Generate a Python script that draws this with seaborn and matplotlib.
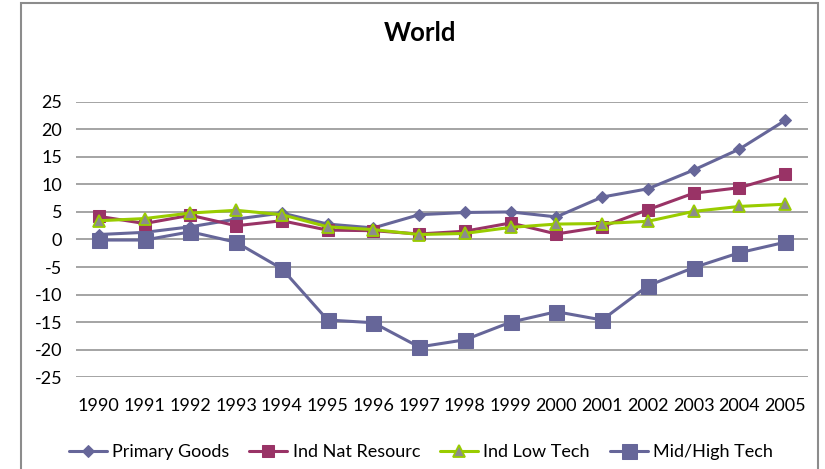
import matplotlib
matplotlib.use("Agg")
import matplotlib.pyplot as plt
from matplotlib.patches import Rectangle
import seaborn as sns
import pandas as pd

years = list(range(1990, 2006))
primary_goods = [0.9, 1.3, 2.3, 3.7, 4.8, 2.8, 2.1, 4.5, 4.9, 5.0, 4.1, 7.7, 9.2, 12.6, 16.4, 21.6]
ind_nat_resourc = [4.2, 2.9, 4.4, 2.5, 3.4, 1.7, 1.6, 1.0, 1.5, 3.0, 1.0, 2.3, 5.4, 8.4, 9.4, 11.8]
ind_low_tech = [3.4, 3.8, 4.8, 5.3, 4.5, 2.3, 1.8, 0.9, 1.1, 2.2, 2.8, 2.9, 3.3, 5.1, 6.0, 6.4]
mid_high_tech = [-0.1, -0.1, 1.4, -0.5, -5.3, -14.6, -15.1, -19.5, -18.2, -15.0, -13.1, -14.6, -8.4, -5.1, -2.4, -0.5]
series_names = ["Primary Goods", "Ind Nat Resourc", "Ind Low Tech", "Mid/High Tech"]
y_ticks = [25, 20, 15, 10, 5, 0, -5, -10, -15, -20, -25]

frames = []
for name, vals in zip(series_names, [primary_goods, ind_nat_resourc, ind_low_tech, mid_high_tech]):
    frames.append(pd.DataFrame({"Year": years, "Value": vals, "Series": name}))
df = pd.concat(frames, ignore_index=True)

sns.set_theme(style="white")
plt.rcParams["font.family"] = ["Lato", "DejaVu Sans"]
plt.rcParams["axes.unicode_minus"] = False

W, H = 825, 469
fig = plt.figure(figsize=(W / 100, H / 100), dpi=100)
ax = fig.add_axes([76 / W, 1 - 377.3 / H, (808 - 76) / W, (377.3 - 101.7) / H])

styles = {
    "Primary Goods": dict(color="#666699", marker="D", markersize=6.6,
                          markerfacecolor="#666699", markeredgecolor="#666699"),
    "Ind Nat Resourc": dict(color="#993366", marker="s", markersize=8.2,
                            markerfacecolor="#993366", markeredgecolor="#993366"),
    "Ind Low Tech": dict(color="#99CC00", marker="^", markersize=9.0,
                         markerfacecolor="#8C8C8C", markeredgecolor="#99CC00",
                         markeredgewidth=1.3),
    "Mid/High Tech": dict(color="#666699", marker="s", markersize=10.8,
                          markerfacecolor="#666699", markeredgecolor="#666699"),
}

for name in series_names:
    sub = df[df["Series"] == name]
    st = dict(styles[name])
    sns.lineplot(data=sub, x="Year", y="Value", ax=ax, linewidth=2.2,
                 label=name, **st)

ax.set_xlim(1989.5, 2005.5)
ax.set_ylim(-25, 25)
ax.set_yticks(y_ticks)
ax.set_xticks(years)
ax.set_xticklabels([str(y) for y in years])
ax.set_xlabel("")
ax.set_ylabel("")
for s in ax.spines.values():
    s.set_visible(False)
for t in y_ticks:
    ax.axhline(t, color="#8C8C8C", linewidth=1.1, zorder=0)
ax.tick_params(axis="y", length=0, pad=10, labelsize=13, labelcolor="black")
ax.tick_params(axis="x", length=0, pad=15, labelsize=13, labelcolor="black")

leg = ax.legend(loc="center", bbox_to_anchor=(421 / W, 1 - 452 / H),
                bbox_transform=fig.transFigure, ncol=4, frameon=False,
                fontsize=13, handlelength=2.1, handletextpad=0.3,
                columnspacing=1.1)
for txt in leg.get_texts():
    txt.set_color("black")

fig.text(420 / W, 1 - 33 / H, "World", ha="center", va="center",
         fontsize=18.5, fontweight="bold", color="black")

fig.patches.append(Rectangle((20.5 / W, -0.05), (818 - 20.5) / W, 1.05 - 3.5 / H,
                             transform=fig.transFigure, fill=False,
                             edgecolor="#8C8C8C", linewidth=1.5))

fig.savefig("out.png", dpi=100)
